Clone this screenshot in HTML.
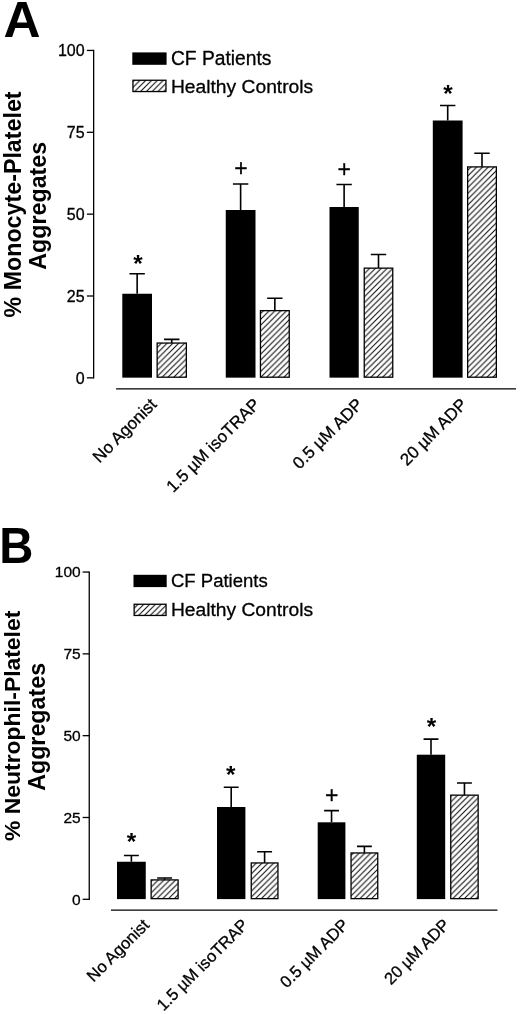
<!DOCTYPE html>
<html lang="en">
<head>
<meta charset="utf-8">
<title>Figure: Monocyte-Platelet and Neutrophil-Platelet Aggregates</title>
<style>
html,body{margin:0;padding:0;background:#fff;}
body{width:520px;height:1014px;overflow:hidden;}
svg{display:block;font-family:'Liberation Sans', Arial, sans-serif;fill:#000;}
text{stroke:#000;stroke-width:0.3px;stroke-linejoin:round;}
text[font-weight=bold]{stroke:none;}
</style>
</head>
<body>
<svg width="520" height="1014" viewBox="0 0 520 1014">
<defs>
<pattern id="hatch" patternUnits="userSpaceOnUse" width="5.8" height="5.8">
<rect width="5.8" height="5.8" fill="#fff"/>
<path d="M-1.45 1.45L1.45 -1.45M-1.45 7.25L7.25 -1.45M4.35 7.25L7.25 4.35" stroke="#000" stroke-width="1" fill="none"/>
</pattern>
</defs>
<rect width="520" height="1014" fill="#fff"/>
<g id="panelA">
<path d="M93.65 49.80V378.50" stroke="#000" stroke-width="1.3" fill="none"/>
<path d="M86.90 377.85H93.65" stroke="#000" stroke-width="1.3" fill="none"/>
<text x="84.60" y="383.60" font-size="16" text-anchor="end" font-weight="normal" >0</text>
<path d="M86.90 296.00H93.65" stroke="#000" stroke-width="1.3" fill="none"/>
<text x="84.60" y="301.75" font-size="16" text-anchor="end" font-weight="normal" >25</text>
<path d="M86.90 214.15H93.65" stroke="#000" stroke-width="1.3" fill="none"/>
<text x="84.60" y="219.90" font-size="16" text-anchor="end" font-weight="normal" >50</text>
<path d="M86.90 132.30H93.65" stroke="#000" stroke-width="1.3" fill="none"/>
<text x="84.60" y="138.05" font-size="16" text-anchor="end" font-weight="normal" >75</text>
<path d="M86.90 50.45H93.65" stroke="#000" stroke-width="1.3" fill="none"/>
<text x="84.60" y="56.20" font-size="16" text-anchor="end" font-weight="normal" >100</text>
<path d="M116.10 388.85H516.05" stroke="#000" stroke-width="1.25" fill="none"/>
<rect x="122.30" y="293.75" width="29.70" height="83.90" fill="#000"/>
<path d="M137.15 293.75V273.75M129.45 273.75H144.85" stroke="#000" stroke-width="1.6" fill="none"/>
<rect x="157.15" y="343.05" width="29.20" height="34.15" fill="url(#hatch)" stroke="#000" stroke-width="1.3"/>
<path d="M171.75 342.90V339.40M164.05 339.40H179.45" stroke="#000" stroke-width="1.6" fill="none"/>
<text x="138.10" y="271.90" font-size="24.3" text-anchor="middle" font-weight="bold" >*</text>
<rect x="225.75" y="210.00" width="29.75" height="167.65" fill="#000"/>
<path d="M240.62 210.00V184.00M232.93 184.00H248.32" stroke="#000" stroke-width="1.6" fill="none"/>
<rect x="260.45" y="310.65" width="28.80" height="66.55" fill="url(#hatch)" stroke="#000" stroke-width="1.3"/>
<path d="M274.85 310.50V298.20M267.15 298.20H282.55" stroke="#000" stroke-width="1.6" fill="none"/>
<text x="241.00" y="175.55" font-size="23" text-anchor="middle" font-weight="normal" >+</text>
<rect x="329.50" y="207.00" width="29.25" height="170.65" fill="#000"/>
<path d="M344.12 207.00V184.50M336.43 184.50H351.82" stroke="#000" stroke-width="1.6" fill="none"/>
<rect x="364.25" y="268.15" width="28.50" height="109.05" fill="url(#hatch)" stroke="#000" stroke-width="1.3"/>
<path d="M378.50 268.00V254.50M370.80 254.50H386.20" stroke="#000" stroke-width="1.6" fill="none"/>
<text x="344.30" y="177.15" font-size="23" text-anchor="middle" font-weight="normal" >+</text>
<rect x="432.80" y="120.50" width="29.80" height="257.15" fill="#000"/>
<path d="M447.70 120.50V105.50M440.00 105.50H455.40" stroke="#000" stroke-width="1.6" fill="none"/>
<rect x="467.65" y="166.90" width="28.70" height="210.30" fill="url(#hatch)" stroke="#000" stroke-width="1.3"/>
<path d="M482.00 166.75V153.25M474.30 153.25H489.70" stroke="#000" stroke-width="1.6" fill="none"/>
<text x="447.90" y="101.80" font-size="24.3" text-anchor="middle" font-weight="bold" >*</text>
<rect x="132.30" y="52.40" width="34.30" height="12.40" fill="#000"/>
<rect x="132.95" y="80.25" width="33.00" height="11.30" fill="url(#hatch)" stroke="#000" stroke-width="1.3"/>
<text transform="translate(170.90 64.80) scale(1 1.04)" font-size="19.25">CF Patients</text>
<text transform="translate(170.90 92.80) scale(1 1.0)" font-size="19.25">Healthy Controls</text>
<text transform="translate(3.50 37.00) scale(1.036 1)" font-size="49.5" font-weight="bold">A</text>
<text transform="translate(20.90 204.45) rotate(-90)" font-size="23.25" font-weight="bold" text-anchor="middle">% Monocyte-Platelet</text>
<text transform="translate(46.20 205.75) rotate(-90)" font-size="23.25" font-weight="bold" text-anchor="middle">Aggregates</text>
<text transform="translate(157.70 405.50) rotate(-45)" font-size="17" text-anchor="end">No Agonist</text>
<text transform="translate(260.90 405.50) rotate(-45)" font-size="17" text-anchor="end">1.5 µM isoTRAP</text>
<text transform="translate(363.90 405.50) rotate(-45)" font-size="17" text-anchor="end">0.5 µM ADP</text>
<text transform="translate(468.00 405.50) rotate(-45)" font-size="17" text-anchor="end">20 µM ADP</text>
</g>
<g id="panelB">
<path d="M89.25 571.40V899.95" stroke="#000" stroke-width="1.3" fill="none"/>
<path d="M82.65 899.30H89.25" stroke="#000" stroke-width="1.3" fill="none"/>
<text x="80.70" y="904.50" font-size="15.5" text-anchor="end" font-weight="normal" >0</text>
<path d="M82.65 817.49H89.25" stroke="#000" stroke-width="1.3" fill="none"/>
<text x="80.70" y="822.69" font-size="15.5" text-anchor="end" font-weight="normal" >25</text>
<path d="M82.65 735.67H89.25" stroke="#000" stroke-width="1.3" fill="none"/>
<text x="80.70" y="740.88" font-size="15.5" text-anchor="end" font-weight="normal" >50</text>
<path d="M82.65 653.86H89.25" stroke="#000" stroke-width="1.3" fill="none"/>
<text x="80.70" y="659.06" font-size="15.5" text-anchor="end" font-weight="normal" >75</text>
<path d="M82.65 572.05H89.25" stroke="#000" stroke-width="1.3" fill="none"/>
<text x="80.70" y="577.25" font-size="15.5" text-anchor="end" font-weight="normal" >100</text>
<path d="M111.00 910.10H497.45" stroke="#000" stroke-width="1.25" fill="none"/>
<rect x="117.00" y="861.75" width="28.75" height="37.35" fill="#000"/>
<path d="M131.38 861.75V855.50M123.92 855.50H138.82" stroke="#000" stroke-width="1.6" fill="none"/>
<rect x="151.15" y="879.90" width="26.95" height="18.75" fill="url(#hatch)" stroke="#000" stroke-width="1.3"/>
<path d="M164.62 879.75V878.00M157.18 878.00H172.07" stroke="#000" stroke-width="1.6" fill="none"/>
<text x="131.50" y="849.80" font-size="24.3" text-anchor="middle" font-weight="bold" >*</text>
<rect x="217.00" y="807.00" width="28.40" height="92.10" fill="#000"/>
<path d="M231.20 807.00V787.20M223.75 787.20H238.65" stroke="#000" stroke-width="1.6" fill="none"/>
<rect x="251.25" y="862.95" width="26.70" height="35.70" fill="url(#hatch)" stroke="#000" stroke-width="1.3"/>
<path d="M264.60 862.80V851.80M257.15 851.80H272.05" stroke="#000" stroke-width="1.6" fill="none"/>
<text x="230.80" y="782.80" font-size="24.3" text-anchor="middle" font-weight="bold" >*</text>
<rect x="317.70" y="822.30" width="27.70" height="76.80" fill="#000"/>
<path d="M331.55 822.30V810.60M324.10 810.60H339.00" stroke="#000" stroke-width="1.6" fill="none"/>
<rect x="351.05" y="852.95" width="26.70" height="45.70" fill="url(#hatch)" stroke="#000" stroke-width="1.3"/>
<path d="M364.40 852.80V846.40M356.95 846.40H371.85" stroke="#000" stroke-width="1.6" fill="none"/>
<text x="331.60" y="802.85" font-size="23" text-anchor="middle" font-weight="normal" >+</text>
<rect x="416.80" y="754.70" width="28.40" height="144.40" fill="#000"/>
<path d="M431.00 754.70V739.10M423.55 739.10H438.45" stroke="#000" stroke-width="1.6" fill="none"/>
<rect x="450.75" y="795.15" width="27.40" height="103.50" fill="url(#hatch)" stroke="#000" stroke-width="1.3"/>
<path d="M464.45 795.00V783.00M457.00 783.00H471.90" stroke="#000" stroke-width="1.6" fill="none"/>
<text x="431.50" y="734.80" font-size="24.3" text-anchor="middle" font-weight="bold" >*</text>
<rect x="133.50" y="574.80" width="33.20" height="12.30" fill="#000"/>
<rect x="134.15" y="604.25" width="31.90" height="11.20" fill="url(#hatch)" stroke="#000" stroke-width="1.3"/>
<text transform="translate(170.90 587.30) scale(0.964 1.0)" font-size="19.25">CF Patients</text>
<text transform="translate(170.90 615.80) scale(1 0.98)" font-size="19.25">Healthy Controls</text>
<text transform="translate(-0.76 563.30) scale(0.946 1)" font-size="50" font-weight="bold">B</text>
<text transform="translate(19.90 725.80) rotate(-90)" font-size="22.9" font-weight="bold" text-anchor="middle">% Neutrophil-Platelet</text>
<text transform="translate(44.60 726.90) rotate(-90)" font-size="23.25" font-weight="bold" text-anchor="middle">Aggregates</text>
<text transform="translate(150.20 926.00) rotate(-45)" font-size="16.6" text-anchor="end">No Agonist</text>
<text transform="translate(249.20 926.00) rotate(-45)" font-size="16.6" text-anchor="end">1.5 µM isoTRAP</text>
<text transform="translate(349.60 926.00) rotate(-45)" font-size="16.6" text-anchor="end">0.5 µM ADP</text>
<text transform="translate(450.60 926.00) rotate(-45)" font-size="16.6" text-anchor="end">20 µM ADP</text>
</g>
</svg>
</body>
</html>
